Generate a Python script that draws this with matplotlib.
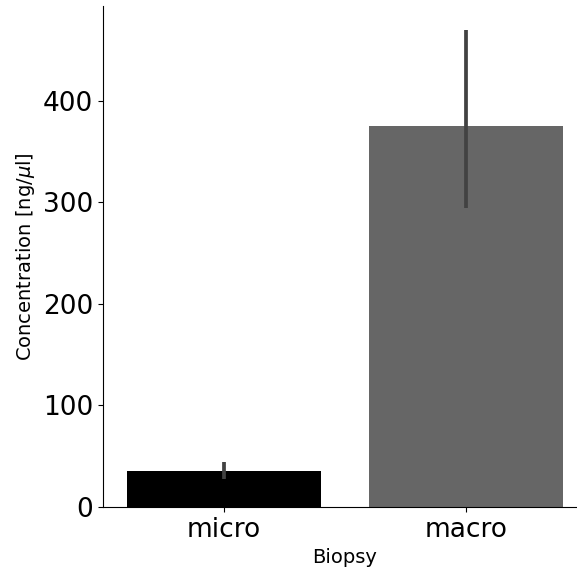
import numpy as np
import matplotlib.pyplot as plt

biopsy = ['micro', 'macro']
concentration = [35.5, 375]
ci_low = [27.6, 295]
ci_high = [44.3, 470]
colors = ['#000000', '#666666']

fig = plt.figure(figsize=(5.77, 5.72), dpi=100)
ax = fig.add_axes([103 / 577, 1 - 507 / 572, 484 / 577, 501 / 572])

x = np.arange(len(biopsy))
ax.bar(x, concentration, width=0.8, color=colors)
for xi, lo, hi in zip(x, ci_low, ci_high):
    ax.plot([xi, xi], [lo, hi], color='#424242', lw=2.7, solid_capstyle='butt')

ax.set_xlim(-0.5, 1.5)
ax.set_ylim(0, 470 * 1.05)
ax.set_xticks(x)
ax.set_xticklabels(biopsy, fontsize=19)
ax.set_yticks([0, 100, 200, 300, 400])
ax.tick_params(axis='y', labelsize=19)
ax.set_xlabel('Biopsy', fontsize=14)
ax.set_ylabel(r'Concentration [ng/$\mu$l]', fontsize=14)
ax.spines['top'].set_visible(False)
ax.spines['right'].set_visible(False)

fig.savefig('out.png', dpi=100)
